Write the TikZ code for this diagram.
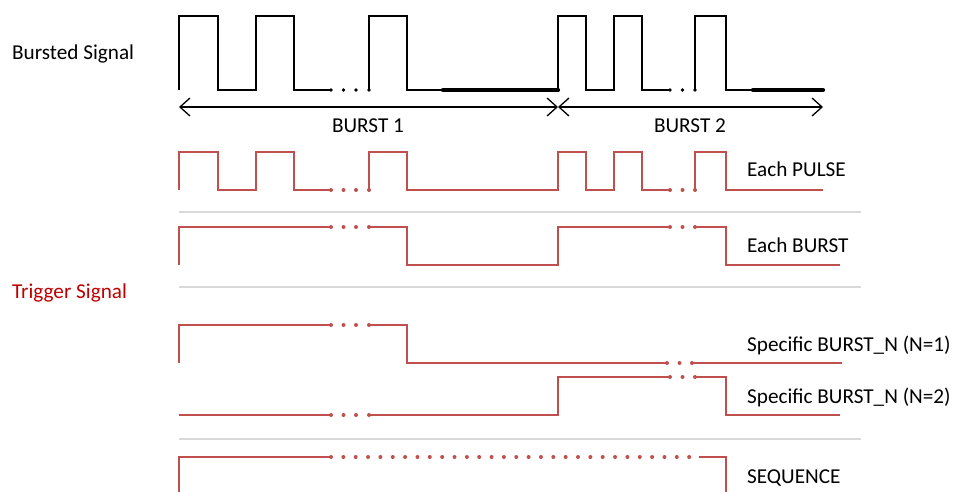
\documentclass[tikz,border=0pt]{standalone}
\usepackage{fontspec}
\setmainfont{Carlito}
\usetikzlibrary{arrows.meta}
\definecolor{sigred}{HTML}{C0504D}
\definecolor{trigred}{HTML}{C00000}
\definecolor{sepgray}{HTML}{D9D9D9}
\begin{document}
\begin{tikzpicture}[x=1pt,y=-1pt,
  sig/.style={draw=black,line width=1.6pt,line join=miter},
  heavy/.style={draw=black,line width=4.2pt,line cap=round},
  rsig/.style={draw=sigred,line width=1.8pt,line join=miter},
  sepline/.style={draw=sepgray,line width=1.8pt},
  bdot/.style={fill=black},
  rdot/.style={fill=sigred},
  lab/.style={font=\fontsize{21.2}{25}\selectfont,inner sep=0pt,anchor=base west},
  burstarrow/.style={draw=black,line width=1.3pt,{Straight Barb[length=10pt,width=18pt]}-{Straight Barb[length=10pt,width=18pt]}}]
\useasboundingbox (0,0) rectangle (956,492);

% labels
\node[lab] (bursted) at (12,60) {Bursted Signal};
\node[lab,text=trigred] (trigger) at (12,298.3) {Trigger Signal};
\node[lab,anchor=base] (b1) at (368,133) {BURST 1};
\node[lab,anchor=base] (b2) at (690,133) {BURST 2};
\node[lab] (lpulse) at (747,176.7) {Each PULSE};
\node[lab] (lburst) at (747,252.7) {Each BURST};
\node[lab] (ln1) at (747,351.7) {Specific BURST\_N (N=1)};
\node[lab] (ln2) at (747,403.3) {Specific BURST\_N (N=2)};
\node[lab] (lseq) at (747,483.3) {SEQUENCE};

% bursted signal (black)
\draw[sig] (179,90)--(179,16)--(218,16)--(218,90)--(256,90)--(256,16)--(294,16)--(294,90)--(331,90);
\draw[sig] (369,90)--(369,16)--(407,16)--(407,90)--(443,90);
\draw[heavy] (443,90)--(558,90);
\draw[sig] (558,90)--(558,16)--(586,16)--(586,90)--(614,90)--(614,16)--(642,16)--(642,90)--(670,90);
\draw[sig] (695,90)--(695,16)--(726,16)--(726,90)--(753,90);
\draw[heavy] (753,90)--(823,90);
\foreach \x in {331,343.5,356,369,670,682.5,695} \fill[bdot] (\x,90) circle (1.9pt);

% burst arrows
\coordinate (a0) at (179,107);
\coordinate (a1) at (558,107);
\coordinate (a2) at (823,107);
\draw[burstarrow] (a0) -- (a1);
\draw[burstarrow] (a1) -- (a2);

% separators
\draw[sepline] (179,211.7)--(861,211.7);
\draw[sepline] (179,287.3)--(861,287.3);
\draw[sepline] (179,439)--(861,439);

% Each PULSE
\draw[rsig] (179,190)--(179,152)--(218,152)--(218,190)--(256,190)--(256,152)--(294,152)--(294,190)--(331,190);
\draw[rsig] (369,190)--(369,152)--(407,152)--(407,190)--(558,190)--(558,152)--(586,152)--(586,190)--(614,190)--(614,152)--(642,152)--(642,190)--(670,190);
\draw[rsig] (695,190)--(695,152)--(726,152)--(726,190)--(823,190);
\foreach \x in {331,343.5,356,369,670,682.5,695} \fill[rdot] (\x,190) circle (2pt);

% Each BURST
\draw[rsig] (179,265)--(179,227)--(331,227);
\draw[rsig] (369,227)--(407,227)--(407,265)--(558,265)--(558,227)--(670,227);
\draw[rsig] (695,227)--(726,227)--(726,265)--(840,265);
\foreach \x in {331,343.5,356,369,670,682.5,695} \fill[rdot] (\x,227) circle (2pt);

% Specific N=1
\draw[rsig] (179,363)--(179,325)--(331,325);
\draw[rsig] (369,325)--(407,325)--(407,363)--(667,363);
\draw[rsig] (692,363)--(842,363);
\foreach \x in {331,343.5,356,369} \fill[rdot] (\x,325) circle (2pt);
\foreach \x in {667,679.5,692} \fill[rdot] (\x,363) circle (2pt);

% Specific N=2
\draw[rsig] (179,415)--(331,415);
\draw[rsig] (369,415)--(558,415)--(558,377)--(670,377);
\draw[rsig] (695,377)--(726,377)--(726,415)--(840,415);
\foreach \x in {331,343.5,356,369} \fill[rdot] (\x,415) circle (2pt);
\foreach \x in {670,682.5,695} \fill[rdot] (\x,377) circle (2pt);

% SEQUENCE
\draw[rsig] (179,493)--(179,457)--(331,457);
\draw[rsig] (699,457)--(726,457)--(726,493);
\foreach \k in {0,...,29} \fill[rdot] ({331+12.35*\k},457) circle (2pt);
\end{tikzpicture}
\end{document}
